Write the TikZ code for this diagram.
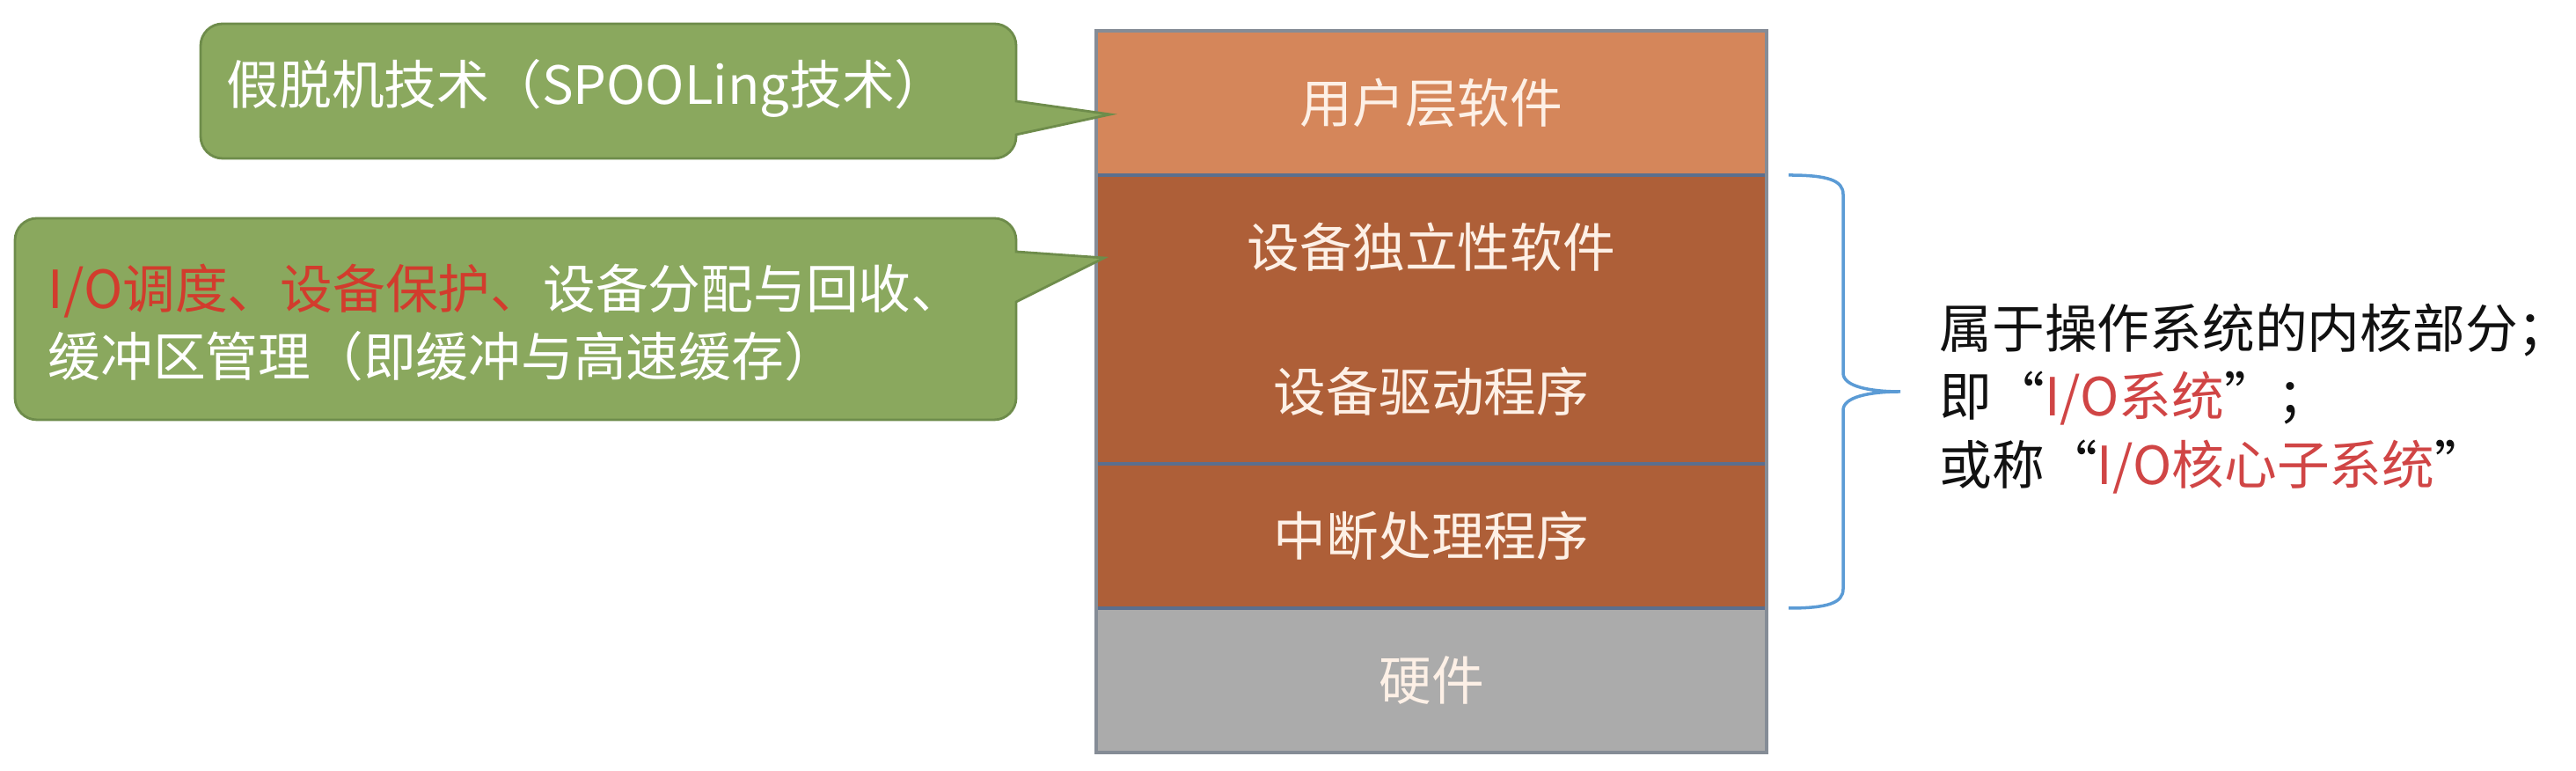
\documentclass[tikz,border=0pt]{standalone}
\usepackage{fontspec}
\setmainfont{Noto Sans CJK SC}
\usetikzlibrary{positioning}
\definecolor{bubbleFill}{HTML}{8AA85E}
\definecolor{bubbleEdge}{HTML}{6E8C4B}
\definecolor{userFill}{HTML}{D5865A}
\definecolor{kernelFill}{HTML}{AE5F38}
\definecolor{hwFill}{HTML}{ABABAB}
\definecolor{layerText}{HTML}{FDF0E6}
\definecolor{rule}{HTML}{5B6F8E}
\definecolor{frame}{HTML}{858C96}
\definecolor{brace}{HTML}{5B9BD5}
\definecolor{hl}{HTML}{D23C2D}
\definecolor{hlRight}{HTML}{D04545}
\definecolor{ink}{HTML}{111111}
\tikzset{
  every node/.style={text=ink},
  layer/.style={fill=#1, minimum width=7.62cm, minimum height=1.64cm, inner sep=0pt, outer sep=0pt,
    font=\fontsize{17}{22}\selectfont, text=layerText},
  bubble/.style={fill=bubbleFill, draw=bubbleEdge, line width=0.8pt},
  bubbleText/.style={anchor=west, align=left, font=\fontsize{17}{22}\selectfont, text=white, inner sep=0pt},
  separator/.style={draw=rule, line width=1.4pt},
  braceLine/.style={draw=brace, line width=1pt},
  note/.style={anchor=west, align=left, font=\fontsize{17}{22}\selectfont, text=ink, inner sep=0pt},
}

\begin{document}
\begin{tikzpicture}
  \useasboundingbox (0, 0) rectangle (29.28, 8.76);

  % ---------------------------------------------------------------- layer stack
  \node[layer=userFill] (user) at (16.27, 7.59) {用户层软件};
  \node[layer=kernelFill, below=0pt of user] (indep) {设备独立性软件};
  \node[layer=kernelFill, below=0pt of indep] (driver) {设备驱动程序};
  \node[layer=kernelFill, below=0pt of driver] (intr) {中断处理程序};
  \node[layer=hwFill, below=0pt of intr] (hw) {硬件};

  \draw[separator] (user.south west) -- (user.south east);
  \draw[separator] (intr.north west) -- (intr.north east);
  \draw[separator] (hw.north west) -- (hw.north east);
  \draw[draw=frame, line width=1pt] (user.north west) rectangle (hw.south east);

  % ---------------------------------------------------------------- callouts
  \draw[bubble] (2.28, 7.7) [rounded corners=0.25cm] -- (2.28, 8.49) -- (11.55, 8.49)
    [sharp corners] -- (11.55, 7.61) -- (12.62, 7.46) -- (11.55, 7.23)
    [rounded corners=0.25cm] -- (11.55, 6.96) -- (2.28, 6.96) -- cycle;
  \node[bubbleText] (spool) at (2.57, 7.76) {假脱机技术（SPOOLing技术）};

  \draw[bubble] (0.17, 5.1) [rounded corners=0.25cm] -- (0.17, 6.28) -- (11.55, 6.28)
    [sharp corners] -- (11.55, 5.90) -- (12.55, 5.83) -- (11.55, 5.33)
    [rounded corners=0.25cm] -- (11.55, 3.99) -- (0.17, 3.99) -- cycle;
  \node[bubbleText] (tasks) at (0.54, 5.095)
    {{\color{hl}I/O调度、设备保护、}设备分配与回收、\\缓冲区管理（即缓冲与高速缓存）};

  % ---------------------------------------------------------------- kernel brace
  \coordinate (braceTop) at ([xshift=0.25cm]indep.north east);
  \coordinate (braceBottom) at ([xshift=0.25cm]intr.south east);
  \coordinate (braceTip) at (21.60, 4.31);
  \draw[braceLine] (braceTop) .. controls +(0.45, 0) and +(0, 0.16) .. (20.95, 6.55)
    -- (20.95, 4.52) .. controls +(0, -0.15) and +(-0.35, 0) .. (braceTip)
    .. controls +(-0.35, 0) and +(0, 0.15) .. (20.95, 4.10)
    -- (20.95, 2.07) .. controls +(0, -0.16) and +(0.45, 0) .. (braceBottom);

  \node[note] (kernel) at (22.04, 4.23)
    {属于操作系统的内核部分；\\即“{\color{hlRight}I/O系统}”；\\或称“{\color{hlRight}I/O核心子系统}”};

\end{tikzpicture}
\end{document}
